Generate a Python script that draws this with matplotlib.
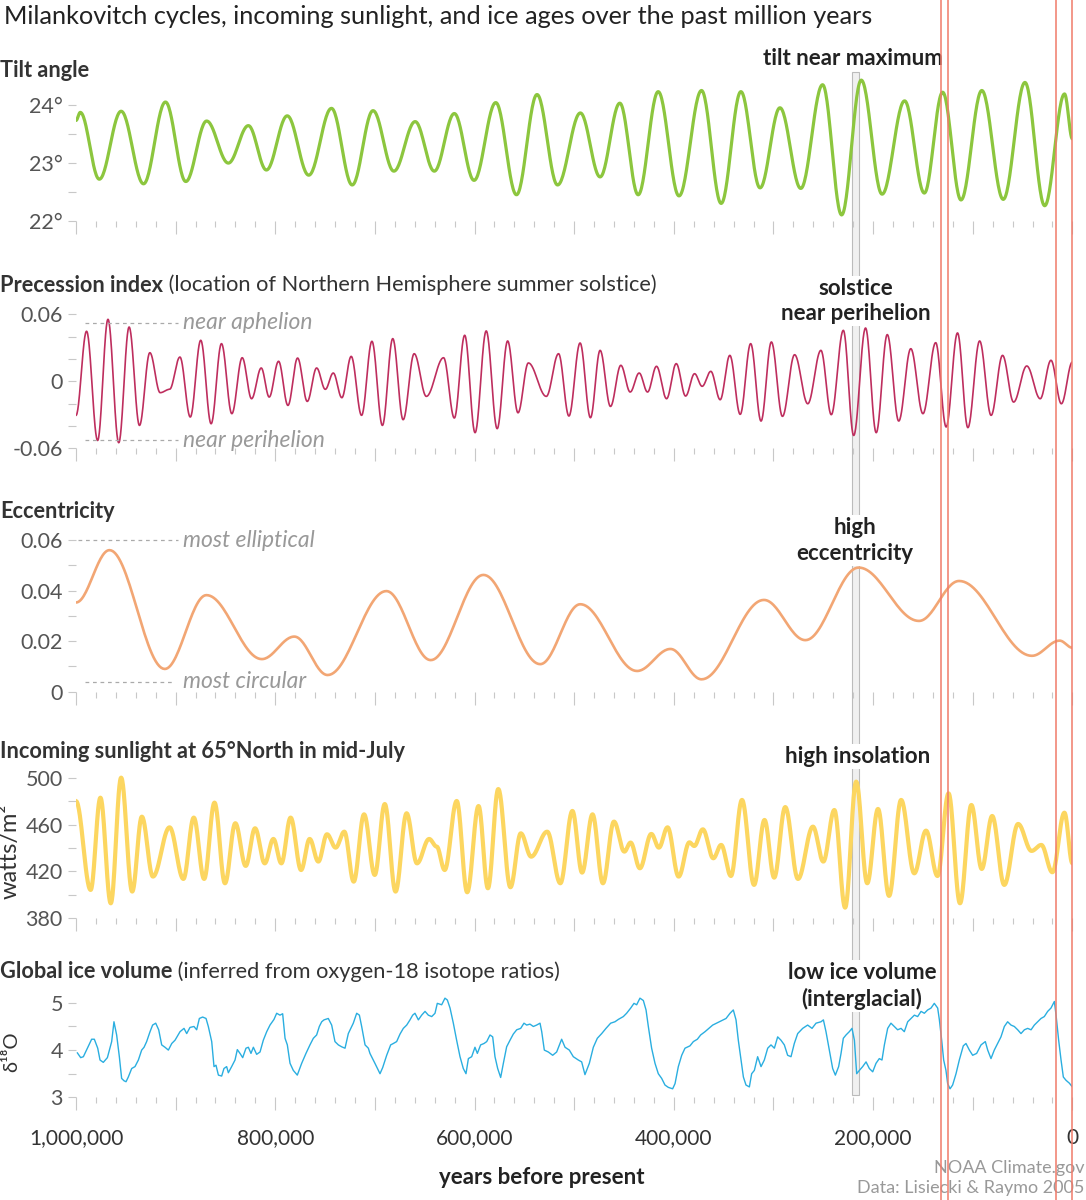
import numpy as np
import matplotlib
matplotlib.use('Agg')
import matplotlib.pyplot as plt
from matplotlib.transforms import blended_transform_factory
from matplotlib.patches import Rectangle
from matplotlib.lines import Line2D

plt.rcParams['font.family'] = ['Lato', 'DejaVu Sans']

# ---- data (thousands of years before present, value) ----
# turning points of the orbital curves
tilt_kyr = [1000, 995.7, 976.6, 954.7, 932.2, 910.2, 889.8, 868.9, 847.1, 827.0,
            808.9, 788.0, 766.4, 743.6, 722.8, 701.9, 681.0, 659.6, 640.4, 620.3,
            600.5, 578.7, 557.9, 537.3, 516.7, 493.8, 474.0, 454.2, 435.8, 415.7,
            394.8, 372.2, 352.5, 332.7, 313.5, 293.5, 272.6, 250.7, 231.6, 211.9,
            191.0, 168.4, 148.6, 130.2, 111.8, 90.9, 69.4, 47.6, 27.8, 7.9, 0]
tilt_deg = [23.74, 23.88, 22.72, 23.90, 22.64, 24.06, 22.68, 23.73, 23.00, 23.65,
            22.88, 23.82, 22.79, 23.95, 22.62, 23.91, 22.86, 23.72, 22.86, 23.86,
            22.70, 24.05, 22.45, 24.19, 22.62, 23.87, 22.76, 24.04, 22.45, 24.24,
            22.43, 24.26, 22.30, 24.24, 22.57, 23.96, 22.56, 24.36, 22.10, 24.44,
            22.46, 24.08, 22.48, 24.23, 22.36, 24.26, 22.37, 24.40, 22.26, 24.20, 23.42]

prec_kyr = [1000, 989.4, 978.3, 967.9, 957.1, 946.7, 936.3, 925.9, 915.5, 906.1,
            895.7, 885.3, 874.8, 864.4, 854.0, 843.6, 833.2, 823.8, 814.1, 806.1,
            796.7, 787.3, 777.6, 767.9, 758.5, 749.8, 741.8, 733.2, 723.8, 713.4,
            703.0, 692.5, 682.1, 671.7, 660.6, 648.4, 631.1, 620.3, 609.9, 599.5,
            588.3, 577.3, 566.8, 556.4, 546.0, 528.0, 515.7, 505.3, 494.1, 483.7,
            474.0, 463.6, 453.2, 443.8, 434.8, 426.4, 417.4, 407.3, 397.6, 388.2,
            379.2, 371.6, 362.9, 353.5, 343.8, 333.4, 322.9, 312.5, 302.1, 291.0,
            278.8, 265.6, 252.4, 242.0, 229.9, 219.5, 207.6, 196.9, 185.8, 174.3,
            162.2, 150.0, 137.2, 126.7, 115.3, 104.9, 93.1, 81.6, 70.1, 59.0,
            45.8, 32.3, 21.5, 11.1, 0]
prec_idx = [-0.0305, 0.0448, -0.0530, 0.0555, -0.0550, 0.0486, -0.0395, 0.0256, -0.0102, -0.0072,
            0.0217, -0.0320, 0.0367, -0.0380, 0.0337, -0.0290, 0.0211, -0.0156, 0.0119, -0.0141,
            0.0179, -0.0216, 0.0208, -0.0180, 0.0119, -0.0072, 0.0074, -0.0147, 0.0223, -0.0305,
            0.0358, -0.0395, 0.0382, -0.0344, 0.0247, -0.0135, 0.0211, -0.0329, 0.0412, -0.0460,
            0.0451, -0.0424, 0.0361, -0.0282, 0.0164, -0.0135, 0.0247, -0.0311, 0.0343, -0.0326,
            0.0277, -0.0225, 0.0143, -0.0096, 0.0074, -0.0096, 0.0134, -0.0156, 0.0158, -0.0132,
            0.0068, -0.0045, 0.0089, -0.0165, 0.0232, -0.0296, 0.0337, -0.0356, 0.0352, -0.0314,
            0.0238, -0.0201, 0.0277, -0.0299, 0.0456, -0.0485, 0.0477, -0.0460, 0.0418, -0.0356,
            0.0292, -0.0290, 0.0346, -0.0409, 0.0433, -0.0415, 0.0361, -0.0305, 0.0232, -0.0186,
            0.0137, -0.0156, 0.0188, -0.0201, 0.0173]

ecc_kyr = [1000, 966.4, 910.9, 869.1, 813.5, 780.9, 747.5, 688.5, 644.0, 591.1, 534.1,
           493.9, 436.9, 403.4, 372.2, 309.6, 268.0, 214.5, 154.0, 113.7, 40.6, 12.8, 0]
ecc_val = [0.0353, 0.0560, 0.0090, 0.0382, 0.0129, 0.0218, 0.0066, 0.0398, 0.0125, 0.0462, 0.0109,
           0.0346, 0.0082, 0.0169, 0.0049, 0.0363, 0.0204, 0.0491, 0.0280, 0.0438, 0.0142, 0.0202, 0.0174]

sun_kyr = [1000, 985.3, 975.5, 965.1, 954.7, 943.6, 933.9, 922.8, 906.1, 892.2,
           881.8, 871.4, 861.0, 850.5, 840.1, 829.7, 820.3, 810.6, 801.9, 793.9,
           784.6, 774.1, 765.5, 756.8, 748.1, 739.4, 730.7, 721.3, 710.9, 700.2,
           690.1, 679.3, 668.2, 657.8, 645.6, 638.0, 630.0, 617.9, 607.4, 596.0,
           586.6, 576.2, 564.0, 553.6, 543.2, 527.1, 513.9, 501.8, 492.1, 481.6,
           471.2, 460.1, 449.7, 443.4, 434.1, 422.6, 415.0, 406.3, 395.2, 384.4,
           379.5, 370.9, 360.4, 352.5, 342.7, 331.6, 319.5, 309.0, 299.3, 288.2,
           275.4, 260.4, 250.0, 238.9, 228.1, 217.0, 205.9, 195.1, 184.0, 171.9,
           158.7, 146.9, 135.4, 124.3, 112.8, 101.4, 91.0, 80.5, 68.4, 54.5,
           41.0, 31.2, 20.1, 8.0, 0]
sun_wm2 = [480.0, 404.2, 482.9, 392.8, 500.0, 402.8, 466.7, 415.6, 457.6, 413.6,
           465.9, 413.6, 478.7, 409.9, 461.1, 424.7, 456.8, 426.9, 447.7, 426.9,
           465.9, 421.2, 447.7, 428.4, 451.7, 440.3, 453.9, 411.3, 468.7, 417.0,
           477.5, 402.8, 469.6, 426.9, 447.7, 441.2, 421.2, 480.1, 402.2, 475.8,
           405.6, 490.3, 406.5, 452.5, 432.6, 453.9, 409.9, 471.6, 419.0, 468.7,
           409.9, 462.5, 436.9, 444.6, 422.7, 452.0, 440.3, 457.6, 415.6, 444.8,
           441.7, 455.9, 431.2, 442.6, 416.1, 481.0, 408.5, 463.9, 414.7, 474.9,
           413.6, 458.2, 428.4, 472.4, 389.1, 496.6, 409.9, 473.3, 399.1, 481.0,
           418.4, 454.8, 416.1, 486.6, 392.8, 476.7, 422.1, 467.3, 408.5, 460.5,
           437.5, 442.6, 419.3, 470.1, 426.9]

# ice volume record (points along the curve)
ice_kyr = [998.6, 995.3, 992.6, 988.6, 984.3, 981.6, 978.2, 975.9, 972.6, 968.5,
           964.2, 961.9, 959.2, 956.5, 954.2, 951.8, 949.8, 947.5, 944.1, 940.8,
           937.4, 934.1, 931.7, 929.1, 925.7, 923.1, 920.0, 917.0, 914.0, 910.7,
           907.3, 903.9, 900.6, 895.6, 891.6, 888.9, 885.6, 881.6, 878.9, 876.2,
           872.9, 869.5, 867.2, 863.8, 861.5, 859.5, 857.1, 853.8, 851.5, 848.8,
           847.1, 843.8, 840.4, 838.1, 835.4, 832.7, 829.4, 827.0, 824.4, 822.0,
           818.7, 815.3, 812.0, 808.6, 805.3, 801.3, 798.6, 795.3, 792.6, 790.2,
           787.9, 785.2, 781.9, 777.9, 773.5, 769.2, 765.2, 761.8, 758.5, 755.8,
           753.4, 751.1, 746.8, 743.4, 740.1, 736.7, 733.4, 730.0, 726.7, 721.7,
           718.3, 715.6, 713.3, 709.9, 706.6, 705.0, 700.0, 694.9, 692.2, 688.2,
           684.2, 681.5, 678.2, 674.8, 671.5, 668.1, 664.8, 662.1, 659.8, 656.4,
           653.1, 649.7, 646.4, 643.0, 639.7, 637.4, 633.0, 629.7, 627.3, 624.6,
           621.3, 618.0, 614.6, 611.3, 608.6, 606.2, 602.9, 599.6, 597.2, 593.9,
           590.5, 587.8, 584.5, 581.8, 579.5, 576.8, 573.8, 571.1, 567.8, 564.4,
           561.1, 557.7, 553.7, 550.4, 547.7, 544.4, 541.0, 537.7, 534.3, 532.6,
           530.0, 526.0, 521.6, 517.6, 512.6, 509.2, 504.9, 500.9, 495.9, 492.5,
           489.2, 484.8, 480.8, 476.8, 472.4, 468.1, 463.4, 459.1, 455.7, 450.7,
           447.4, 443.3, 440.0, 437.3, 434.0, 430.6, 427.9, 425.6, 422.3, 418.9,
           415.6, 412.2, 408.9, 405.5, 401.2, 398.8, 395.5, 392.1, 388.8, 383.8,
           380.4, 376.4, 373.1, 368.7, 361.0, 354.3, 347.6, 343.6, 340.3, 337.6,
           335.3, 332.6, 330.2, 327.6, 324.2, 321.9, 319.2, 315.9, 312.5, 309.2,
           305.8, 302.5, 299.1, 295.8, 292.5, 289.1, 285.8, 282.4, 279.1, 275.7,
           270.7, 265.7, 261.3, 257.3, 252.3, 249.9, 247.3, 243.9, 240.6, 237.9,
           234.6, 232.2, 229.9, 227.2, 223.9, 221.2, 218.8, 216.5, 213.8, 210.5,
           207.1, 203.8, 200.4, 197.1, 193.8, 191.1, 188.7, 185.4, 182.1, 178.7,
           175.4, 172.0, 168.7, 165.3, 162.0, 158.6, 155.3, 151.9, 148.6, 145.3,
           141.9, 138.6, 135.2, 133.5, 131.2, 129.2, 126.9, 125.2, 122.8, 120.2,
           116.8, 113.5, 109.5, 106.8, 103.4, 100.1, 96.1, 91.7, 87.4, 85.0,
           81.7, 78.4, 75.0, 71.7, 68.3, 65.0, 61.6, 58.3, 54.9, 51.6,
           48.2, 44.9, 41.5, 38.2, 34.9, 31.5, 28.2, 24.8, 21.5, 18.1,
           16.4, 13.8, 11.4, 9.1, 6.4, 3.1, 0]
ice_d18o = [3.94, 3.84, 3.86, 4.04, 4.23, 4.23, 4.04, 3.79, 3.74, 3.84,
            4.18, 4.60, 4.32, 3.86, 3.40, 3.35, 3.33, 3.43, 3.61, 3.65,
            3.79, 4.00, 4.06, 4.18, 4.39, 4.53, 4.57, 4.43, 4.11, 4.06,
            4.00, 4.14, 4.21, 4.39, 4.46, 4.35, 4.48, 4.50, 4.43, 4.67,
            4.70, 4.67, 4.50, 4.18, 3.65, 3.68, 3.47, 3.45, 3.61, 3.65,
            3.52, 3.65, 3.79, 4.01, 3.93, 3.84, 4.04, 4.06, 3.93, 4.06,
            3.91, 3.96, 4.21, 4.39, 4.53, 4.65, 4.78, 4.74, 4.77, 4.25,
            4.11, 3.72, 3.57, 3.47, 3.72, 3.93, 4.11, 4.25, 4.32, 4.50,
            4.60, 4.64, 4.67, 4.53, 4.18, 4.11, 4.07, 4.04, 4.35, 4.57,
            4.78, 4.74, 4.50, 4.11, 4.04, 3.93, 3.72, 3.50, 3.63, 3.89,
            4.11, 4.14, 4.18, 4.34, 4.46, 4.53, 4.64, 4.74, 4.78, 4.64,
            4.74, 4.82, 4.74, 4.71, 4.78, 4.99, 4.96, 5.10, 5.06, 4.89,
            4.57, 4.21, 3.86, 3.61, 3.50, 3.82, 3.86, 4.06, 3.93, 4.11,
            4.14, 4.18, 4.32, 4.28, 3.86, 3.61, 3.42, 3.72, 4.07, 4.21,
            4.34, 4.43, 4.46, 4.57, 4.53, 4.55, 4.50, 4.53, 4.57, 4.39,
            4.00, 3.96, 3.89, 3.96, 4.23, 4.06, 4.00, 3.86, 3.79, 3.75,
            3.48, 3.72, 4.06, 4.25, 4.35, 4.46, 4.57, 4.60, 4.65, 4.71,
            4.78, 4.89, 4.99, 4.96, 5.10, 5.05, 4.85, 4.50, 4.04, 3.72,
            3.50, 3.40, 3.26, 3.21, 3.18, 3.29, 3.65, 3.89, 4.04, 4.09,
            4.18, 4.23, 4.32, 4.39, 4.53, 4.60, 4.67, 4.78, 4.85, 4.64,
            4.21, 3.79, 3.43, 3.26, 3.22, 3.50, 3.57, 3.86, 3.65, 3.79,
            4.04, 4.11, 4.04, 4.28, 4.21, 4.11, 3.89, 3.86, 4.14, 4.35,
            4.46, 4.53, 4.46, 4.57, 4.60, 4.64, 4.39, 4.00, 3.61, 3.47,
            3.65, 3.93, 4.25, 4.32, 4.39, 4.46, 4.21, 3.50, 3.57, 3.65,
            3.75, 3.61, 3.54, 3.72, 3.82, 3.79, 4.11, 4.46, 4.57, 4.50,
            4.43, 4.46, 4.39, 4.60, 4.67, 4.74, 4.71, 4.82, 4.78, 4.85,
            4.89, 4.99, 4.89, 4.64, 4.21, 3.79, 3.57, 3.29, 3.18, 3.26,
            3.50, 3.79, 4.09, 4.14, 4.00, 3.89, 3.93, 4.11, 4.18, 4.00,
            3.82, 4.00, 4.14, 4.28, 4.50, 4.60, 4.53, 4.50, 4.43, 4.35,
            4.43, 4.46, 4.43, 4.53, 4.60, 4.67, 4.71, 4.82, 4.89, 5.03,
            4.74, 4.21, 3.79, 3.43, 3.36, 3.30, 3.22]

band_kyr = (221, 214)
red_line_kyr = [131.9, 125.0, 16.5, 0]
x_labels_kyr = [1000, 800, 600, 400, 200, 0]

# ---- layout helpers (pixels of the 1086x1200 canvas) ----
W, H = 1086, 1200
fig = plt.figure(figsize=(W / 100, H / 100), dpi=100)
fig.patch.set_facecolor('white')


def fx(px):
    return px / W


def fy(py):
    return 1 - py / H


X0, X1 = 76, 1072.4
TICK = '#c8c8c8'
DARK = '#333333'


def smooth(tk, vals, n=30):
    # half-cosine joins between the read turning points
    xs, ys = [], []
    for i in range(len(tk) - 1):
        s = np.linspace(0, 1, n, endpoint=False)
        w = (1 - np.cos(np.pi * s)) / 2
        xs.append(tk[i] + (tk[i + 1] - tk[i]) * s)
        ys.append(vals[i] + (vals[i + 1] - vals[i]) * w)
    xs.append([tk[-1]])
    ys.append([vals[-1]])
    return np.concatenate(xs), np.concatenate(ys)


def panel(ytop, ybot, ylim, major, labels, minor):
    ax = fig.add_axes([fx(X0), fy(ybot), (X1 - X0) / W, (ybot - ytop) / H])
    ax.set_xlim(1000, 0)
    ax.set_ylim(*ylim)
    ax.patch.set_visible(False)
    for s in ax.spines.values():
        s.set_visible(False)
    ax.set_xticks(np.arange(0, 1001, 100))
    ax.set_xticks(np.arange(0, 1001, 20), minor=True)
    ax.tick_params(axis='x', which='major', length=9, width=0.8, color=TICK,
                   labelbottom=False)
    ax.tick_params(axis='x', which='minor', length=4.5, width=0.8, color=TICK)
    ax.set_yticks(major)
    ax.set_yticklabels(labels)
    ax.set_yticks(minor, minor=True)
    ax.tick_params(axis='y', which='both', length=5.5, width=0.8, color=TICK,
                   labelsize=15.5, labelcolor='#555555', pad=4)
    return ax


ax1 = panel(70.9, 220.7, (22, 24.6), [22, 23, 24], ['22°', '23°', '24°'], [22.5, 23.5])
ax2 = panel(308.7, 448.3, (-0.06, 0.065), [-0.06, 0, 0.06], ['-0.06', '0', '0.06'],
            [-0.04, -0.02, 0.02, 0.04])
ax3 = panel(527.4, 691.7, (0, 0.065), [0, 0.02, 0.04, 0.06], ['0', '0.02', '0.04', '0.06'],
            [0.01, 0.03, 0.05])
ax4 = panel(771.8, 918.3, (380, 505), [380, 420, 460, 500], ['380', '420', '460', '500'],
            [400, 440, 480])
ax5 = panel(995.8, 1097.3, (3, 5.15), [3, 4, 5], ['3', '4', '5'], [3.5, 4.5])

x, y = smooth(tilt_kyr, tilt_deg)
ax1.plot(x, y, color='#8cc63e', lw=2.3, solid_capstyle='round')
x, y = smooth(prec_kyr, prec_idx)
ax2.plot(x, y, color='#be2e5e', lw=1.2)
x, y = smooth(ecc_kyr, ecc_val)
ax3.plot(x, y, color='#f2a674', lw=1.9)
x, y = smooth(sun_kyr, sun_wm2)
ax4.plot(x, y, color='#fcd660', lw=3.0)
ax5.plot(ice_kyr, ice_d18o, color='#2aaee0', lw=1.0)

# bottom axis labels
ax5.set_xticklabels([f'{int(t * 1000):,}' if t in x_labels_kyr else '' for t in range(0, 1001, 100)])
ax5.tick_params(axis='x', which='major', labelbottom=True, labelsize=15, labelcolor=DARK, pad=13)

# dashed guides with italic notes
note = dict(color='#999999', style='italic', fontsize=16.5, va='center', ha='left')
ax2.plot([991, 897.6], [0.0523, 0.0523], ls=(0, (3, 3)), color='#aaaaaa', lw=0.9)
ax2.plot([991, 897.6], [-0.0529, -0.0529], ls=(0, (3, 3)), color='#aaaaaa', lw=0.9)
ax2.text(892.5, 0.0523, 'near aphelion', **note)
ax2.text(892.5, -0.0529, 'near perihelion', **note)
ax3.plot([998, 897.6], [0.06, 0.06], ls=(0, (3, 3)), color='#aaaaaa', lw=0.9)
ax3.plot([991, 901.6], [0.004, 0.004], ls=(0, (3, 3)), color='#aaaaaa', lw=0.9)
ax3.text(892.5, 0.06, 'most elliptical', **note)
ax3.text(892.5, 0.004, 'most circular', **note)

# highlighted interval and red markers across the whole figure
tr = blended_transform_factory(ax5.transData, fig.transFigure)
fig.add_artist(Rectangle((band_kyr[0], fy(1095)), band_kyr[1] - band_kyr[0], fy(72.3) - fy(1095),
                         transform=tr, facecolor='#f0f0f0', edgecolor='#bbbbbb', lw=0.8, zorder=-2))
for t in red_line_kyr:
    fig.add_artist(Line2D([t, t], [0, 1], transform=tr, color='#f07a6a', lw=1.1, zorder=10))

# titles and labels
fig.text(fx(4), fy(17), 'Milankovitch cycles, incoming sunlight, and ice ages over the past million years',
         fontsize=18.2, color='#222222', va='center', ha='left')

renderer = fig.canvas.get_renderer()


def label(py, bold, rest=''):
    t = fig.text(fx(0), fy(py), bold, fontsize=15.7, fontweight='bold', color=DARK, va='center', ha='left')
    if rest:
        bb = t.get_window_extent(renderer=renderer)
        fig.text(bb.x1 / W, fy(py), rest, fontsize=15.7, color=DARK, va='center', ha='left')


label(70.7, 'Tilt angle')
label(285, 'Precession index', ' (location of Northern Hemisphere summer solstice)')
label(511.7, 'Eccentricity')
label(751.7, 'Incoming sunlight at 65°North in mid-July')
label(971.7, 'Global ice volume', ' (inferred from oxygen-18 isotope ratios)')

fig.text(fx(10), fy(851), 'watts/m²', rotation=90, fontsize=17, color=DARK, va='center', ha='center')
fig.text(fx(12), fy(1052), 'δ¹⁸O', rotation=90, fontsize=14.5, color=DARK, va='center', ha='center')

# annotations sit above the grey band but below the curves
box = dict(facecolor='white', edgecolor='none', pad=1.5)
ann = dict(fontsize=16, fontweight='bold', color='#222222', ha='center', va='center',
           bbox=box, linespacing=1.25, zorder=-1)
fig.text(fx(853), fy(58.3), 'tilt near maximum', **ann)
fig.text(fx(856), fy(300.8), 'solstice\nnear perihelion', **ann)
fig.text(fx(855), fy(540.5), 'high\neccentricity', **ann)
fig.text(fx(858), fy(756.7), 'high insolation', **ann)
fig.text(fx(862), fy(985.8), 'low ice volume\n(interglacial)', **ann)

fig.text(fx(542), fy(1177), 'years before present', fontsize=16, fontweight='bold', color='#222222',
         ha='center', va='center')
fig.text(fx(1084), fy(1168), 'NOAA Climate.gov', fontsize=13, color='#999999', ha='right', va='center')
fig.text(fx(1084), fy(1188), 'Data: Lisiecki & Raymo 2005', fontsize=13, color='#999999',
         ha='right', va='center')

fig.savefig('out.png', dpi=100)
